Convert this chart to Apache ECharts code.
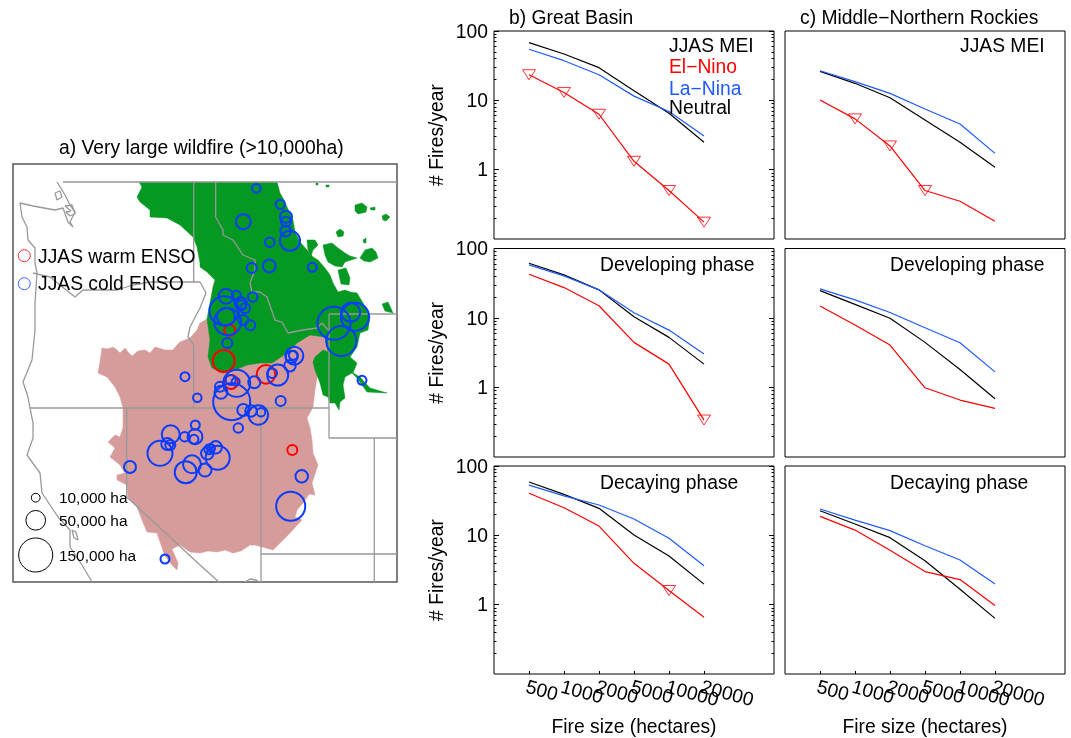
<!DOCTYPE html>
<html><head><meta charset="utf-8">
<style>html,body{margin:0;padding:0;background:#fff}#c{width:1071px;height:738px}</style>
<script src="https://cdn.jsdelivr.net/npm/echarts@6/dist/echarts.min.js"></script>
</head><body><div id="c"></div>
<script>
// ---------- fire-size curves (fires/year) ----------
const sizeLabels = ['500','1000','2000','5000','10000','20000'];
const sizePositions = [1,2,3,4,5,6];
const labelPositions = [0,1,2,3,4,5,6,8];
const majorTicks = [1,10,100];
const minorTicks = [0.2,0.3,0.4,0.5,0.6,0.7,0.8,0.9,2,3,4,5,6,7,8,9,20,30,40,50,60,70,80,90];

const basinMeiNeutral = [68,46.6,29.6,13.8,6.5,2.48];
const basinMeiLaNina  = [54.5,37.3,23.4,11.5,6.9,3.06];
const basinMeiElNino  = [23.4,13,6.3,1.32,0.5,0.175];
const basinMeiSig     = [1,1,1,1,1,1];

const basinDevNeutral = [61.4,41.7,25.4,10.4,5.26,2.17];
const basinDevLaNina  = [58,40.4,25.4,11.9,6.7,3.03];
const basinDevElNino  = [42.6,27.4,15,4.46,2.17,0.34];
const basinDevSig     = [0,0,0,0,0,1];

const basinDecNeutral = [58.8,39,24.5,10.1,5.04,1.98];
const basinDecLaNina  = [53,37,27.4,17.2,9.06,3.65];
const basinDecElNino  = [40.4,25,13.6,3.95,1.6,0.66];
const basinDecSig     = [0,0,0,0,1,0];

const rockMeiNeutral = [26.2,17.6,10.9,5.2,2.48,1.08];
const rockMeiLaNina  = [26.7,18.6,12.6,7.5,4.56,1.72];
const rockMeiElNino  = [10.1,5.4,2.2,0.5,0.35,0.18];
const rockMeiSig     = [0,1,1,1,0,0];

const rockDevNeutral = [24.8,15.7,9.9,4.46,1.82,0.69];
const rockDevLaNina  = [26.2,18.2,12,7.24,4.4,1.68];
const rockDevElNino  = [14.9,7.95,4.08,0.99,0.66,0.5];
const rockDevSig     = [0,0,0,0,0,0];

const rockDecNeutral = [22.6,14.6,9.25,4.3,1.67,0.635];
const rockDecLaNina  = [24,16.6,11.7,7.08,4.4,1.99];
const rockDecElNino  = [18.8,11.9,6.1,3,2.3,0.97];
const rockDecSig     = [0,0,0,0,0,0];

// ---------- map: circles [mapX, mapY, hectares] ----------
const coldFires = [
[256.3,188.3,10000],[280.3,204.3,11000],[286,216.7,18600],[286,221.7,12900],[285.7,231,15000],[290,240.7,51700],
[243.3,221.7,29000],[269.7,242.3,11700],[251.7,268,12900],[269.3,266,21000],[312.3,267.3,10500],[252.7,297,11700],
[226,296.3,28000],[236.3,295.3,10500],[240.7,303.3,18600],[241.3,305.3,12900],[245,308.3,12900],[224,310.7,109000],
[226,316.7,41800],[227.7,321.7,94100],[243.3,320,12900],[250.3,325.3,12900],[227.3,343,12900],[334,323.3,141000],
[355,316.7,101000],[350.7,312.3,46600],[341.3,341,116000],[362,380.3,10500],[294.3,355.7,41800],[293.3,355.3,10500],
[291.7,356.7,18600],[290,365.7,17100],[277.7,375,57000],[272.3,373.3,11700],[254.3,382.3,18600],[236.7,383.3,94100],
[230.7,380,12900],[235.7,381.7,8300],[220,386.7,12900],[221,392.3,21800],[231.7,401.7,177000],[197.3,397.7,9300],
[185,376.7,10500],[280.7,401,12900],[243.3,410,18600],[251,411,17100],[258.3,415,49000],[261,412.3,9300],[238.3,428,11700],
[160,453.3,80700],[170.7,434.3,41800],[167.3,444,18600],[170.3,445,12900],[184.7,436.7,11700],[195.3,425,10500],
[195,436.7,29000],[194,439.3,10500],[185.7,472.3,62500],[192,464.3,41800],[205,470,21800],[207.3,453.3,20200],
[211,448.3,8300],[215.7,447.3,20200],[217.7,457.7,74400],[209.3,449.3,12900],[130,467,18600],[301.7,476.3,20200],
[290.7,506.3,109000],[165,559,10500]
];
const warmFires = [[229.7,330.3,15600],[223.7,361,62500],[266,374.3,45000],[231,382,25000],[292.3,450,12900]];
const sizeKey = [[35.7,497.7,10000],[35.7,520.3,50000],[35.7,555,150000]];
const sizeKeyLabels = ['10,000 ha','50,000 ha','150,000 ha'];
const ensoKey = [[24.3,255.7],[24.3,283.7]];

// ---------- map: regions and boundaries, in map units ----------
const greatBasinRegion = [[102,348],[108,349],[113,347],[117,350],[120,353],[125,348],[128,352],[132,356],[138,351],[145,350],[150,353],[155,347],[165,350],[173,350],[177,345],[180,342],[190,338],[197,330],[200,323],[207,319],[225,330],[260,345],[300,330],[328,335],[332,355],[318,372],[315,390],[313,407],[307,418],[310,428],[312,440],[313,453],[318,465],[312,483],[315,495],[309,494],[303,503],[297,510],[295,517],[302,520],[290,533],[280,543],[273,550],[262,547],[255,545],[250,545],[241,551],[233,553],[225,550],[217,552],[208,551],[200,553],[190,552],[180,545],[172,549],[178,563],[177,570],[172,565],[165,556],[160,542],[157,533],[147,532],[142,520],[137,507],[128,497],[127,485],[117,480],[117,475],[125,473],[120,465],[110,457],[115,448],[108,442],[115,435],[120,437],[123,427],[123,408],[120,397],[115,387],[107,377],[98,373],[100,362]];
const rockiesRegion = [[139,182],[277,182],[280,193],[284,200],[287,207],[293,220],[295,232],[300,242],[307,250],[313,257],[318,260],[325,268],[330,275],[333,283],[338,292],[345,290],[350,292],[357,293],[363,303],[370,317],[368,330],[360,333],[357,347],[350,357],[357,363],[353,373],[360,377],[370,388],[387,393],[367,392],[357,378],[352,373],[345,377],[343,385],[345,398],[340,402],[339,410],[335,403],[330,403],[328,397],[323,395],[320,383],[315,370],[313,362],[315,357],[323,350],[328,352],[325,337],[310,335],[297,343],[287,353],[272,363],[260,363],[247,365],[235,370],[223,373],[212,368],[208,357],[210,340],[207,319],[210,303],[213,287],[215,280],[207,272],[200,267],[200,263],[197,247],[193,237],[180,225],[167,218],[150,217],[150,210],[140,202],[137,197],[142,187]];
const rockiesOutliers = [
[[355,205],[362,203],[367,207],[366,212],[358,214],[355,211]],
[[370,208],[375,207],[375,210],[371,210]],
[[382,216],[386,214],[390,217],[386,221],[383,220]],
[[336,232],[340,229],[344,232],[343,236],[338,237]],
[[307,240],[315,240],[318,245],[313,250],[311,256],[308,250]],
[[323,245],[332,243],[338,248],[345,253],[350,256],[357,258],[345,262],[342,267],[335,266],[328,262],[325,255]],
[[360,258],[365,250],[372,248],[376,252],[378,258],[370,262],[364,261]],
[[338,270],[346,268],[350,278],[349,285],[341,284]],
[[363,240],[366,238],[366,243],[364,243]],
[[382,304],[388,302],[393,313],[385,311]],
[[316,183],[318,183],[318,185],[316,185]],
[[326,185],[329,185],[329,187],[326,187]]
];
const boundaryLines = [
[[63,182],[397,182]],
[[57,182],[62,190],[65,195],[70,205],[75,212],[70,222],[73,227],[68,222],[63,208],[55,210],[33,206],[20,203],[22,217],[27,227],[28,240],[35,248],[35,263],[37,273],[35,303],[35,330],[32,360],[23,382],[28,397],[30,408],[33,423],[33,438],[27,455],[40,473],[42,493],[58,517],[70,530],[70,547],[82,565],[92,582]],
[[55,193],[60,191],[62,197],[57,200],[55,193]],
[[65,206],[72,205],[75,214],[70,216],[66,212],[71,211],[65,206]],
[[33,273],[50,277],[60,285],[75,297],[83,290],[117,290],[133,285],[150,282],[200,282]],
[[193.7,182],[193.7,282]],
[[215.7,182],[215.7,217],[223,230],[223,235],[233,240],[243,255],[255,260],[255,270],[250,283],[252,292],[260,292],[267,297],[275,320],[282,322],[288,333],[303,330],[317,328],[322,323],[328,330]],
[[329,314],[329,438],[397,438]],
[[329,314],[397,314]],
[[30,408],[329,408]],
[[126.7,408],[126.7,497],[200,565],[220,583]],
[[200,282],[206,293],[200,308],[190,327],[188,337],[193.7,345],[193.7,408]],
[[261,408],[261,583]],
[[261,554],[397,554]],
[[374.3,438],[374.3,583]],
[[72,530],[76,532],[78,540],[74,538],[72,530]],
[[245,582],[250,579],[256,580],[259,582]]
];

// ---------- colours and style ----------
const RED='#ff0000', BLUE='#1e5aff', BLACK='#000000', CIRC_BLUE='#0a3cff';
const FONT='"Liberation Sans", Arial, sans-serif';
const FS=19.3;

const panels = [
 {left:494,top:31,height:208,neutral:basinMeiNeutral,la:basinMeiLaNina,el:basinMeiElNino,sig:basinMeiSig,yAxis:true,xAxis:false},
 {left:494,top:248.5,height:208.5,neutral:basinDevNeutral,la:basinDevLaNina,el:basinDevElNino,sig:basinDevSig,yAxis:true,xAxis:false},
 {left:494,top:466,height:209,neutral:basinDecNeutral,la:basinDecLaNina,el:basinDecElNino,sig:basinDecSig,yAxis:true,xAxis:true},
 {left:785,top:31,height:208,neutral:rockMeiNeutral,la:rockMeiLaNina,el:rockMeiElNino,sig:rockMeiSig,yAxis:false,xAxis:false},
 {left:785,top:248.5,height:208.5,neutral:rockDevNeutral,la:rockDevLaNina,el:rockDevElNino,sig:rockDevSig,yAxis:false,xAxis:false},
 {left:785,top:466,height:209,neutral:rockDecNeutral,la:rockDecLaNina,el:rockDecElNino,sig:rockDecSig,yAxis:false,xAxis:true}
];

const grids=[], xAxes=[], yAxes=[], series=[];

// map panel
grids.push({left:13,top:164,width:384,height:418,show:true,borderColor:'#555',borderWidth:1.5,backgroundColor:'#fff'});
xAxes.push({type:'value',gridIndex:0,min:13,max:397,show:false});
yAxes.push({type:'value',gridIndex:0,min:164,max:582,inverse:true,show:false});

const regionSeries=(polys,color,z)=>({type:'custom',xAxisIndex:0,yAxisIndex:0,z,silent:true,clip:true,
  data:polys.map((p,i)=>[i]),
  renderItem:(params,api)=>({type:'polygon',shape:{points:polys[api.value(0)].map(pt=>api.coord(pt))},
    style:{fill:color,stroke:color,lineWidth:0.5}})});
series.push(regionSeries([greatBasinRegion],'#d69b9b',1));
series.push(regionSeries([rockiesRegion].concat(rockiesOutliers),'#059823',2));
boundaryLines.forEach(l=>series.push({type:'line',xAxisIndex:0,yAxisIndex:0,data:l,z:3,symbol:'none',silent:true,
  lineStyle:{color:'#999999',width:1.3}}));
const dia=ha=>8.8*Math.sqrt(ha/10000);
const circles=(d,color,width,z)=>({type:'scatter',xAxisIndex:0,yAxisIndex:0,data:d,z,silent:true,
  symbol:'circle',symbolSize:v=>dia(v[2]),
  itemStyle:{color:'rgba(0,0,0,0)',borderColor:color,borderWidth:width,opacity:1}});
series.push(circles(warmFires,RED,2,4));
series.push(circles(coldFires,CIRC_BLUE,2,5));
series.push(circles(sizeKey,BLACK,1,6));
series.push({type:'scatter',xAxisIndex:0,yAxisIndex:0,data:[ensoKey[0]],z:6,symbolSize:12,silent:true,itemStyle:{color:'rgba(0,0,0,0)',borderColor:RED,borderWidth:1}});
series.push({type:'scatter',xAxisIndex:0,yAxisIndex:0,data:[ensoKey[1]],z:6,symbolSize:12,silent:true,itemStyle:{color:'rgba(0,0,0,0)',borderColor:CIRC_BLUE,borderWidth:1}});

// six curve panels
panels.forEach((p,k)=>{
  const g=k+1;
  grids.push({left:p.left,top:p.top,width:280,height:p.height,show:true,borderColor:'#000',borderWidth:1,backgroundColor:'rgba(0,0,0,0)'});
  xAxes.push({type:'value',gridIndex:g,min:0,max:8,position:'bottom',
    axisLine:{show:false},splitLine:{show:false},
    axisTick:{show:p.xAxis,inside:true,length:3,customValues:sizePositions,lineStyle:{color:'#000'}},
    axisLabel:{show:p.xAxis,customValues:labelPositions,rotate:-15,margin:14,hideOverlap:false,padding:[0,0,0,-3],color:'#000',fontFamily:FONT,fontSize:FS,
      formatter:v=>sizeLabels[v-1]||''},
    name:p.xAxis?'Fire size (hectares)':'',nameLocation:'middle',nameGap:44,
    nameTextStyle:{color:'#000',fontFamily:FONT,fontSize:FS}});
  const yi=yAxes.length;
  const base={type:'log',logBase:10,gridIndex:g,min:0.1,max:100,splitLine:{show:false},axisLine:{show:false}};
  yAxes.push(Object.assign({},base,{position:'left',
    axisTick:{show:p.yAxis,inside:true,length:5,customValues:majorTicks,lineStyle:{color:'#000'}},
    axisLabel:{show:p.yAxis,customValues:majorTicks,margin:6,verticalAlign:'top',padding:[-8,0,0,0],color:'#000',fontFamily:FONT,fontSize:FS,formatter:v=>String(v)},
    name:p.yAxis?'# Fires/year':'',nameLocation:'middle',nameRotate:90,nameGap:47,
    nameTextStyle:{color:'#000',fontFamily:FONT,fontSize:FS}}));
  if(p.yAxis){
    yAxes.push(Object.assign({},base,{position:'left',axisLabel:{show:false},axisTick:{show:true,inside:true,length:2.5,customValues:minorTicks,lineStyle:{color:'#000'}}}));
    yAxes.push(Object.assign({},base,{position:'right',axisLabel:{show:false},axisTick:{show:true,inside:true,length:5,customValues:majorTicks,lineStyle:{color:'#000'}}}));
    yAxes.push(Object.assign({},base,{position:'right',axisLabel:{show:false},axisTick:{show:true,inside:true,length:2.5,customValues:minorTicks,lineStyle:{color:'#000'}}}));
  }
  const curve=(vals,color,z)=>({type:'line',xAxisIndex:g,yAxisIndex:yi,z,symbol:'none',silent:true,
    data:vals.map((v,i)=>[sizePositions[i],v]),lineStyle:{color,width:1.2}});
  series.push(curve(p.neutral,BLACK,2),curve(p.la,BLUE,3),curve(p.el,RED,4));
  const sigPts=p.el.map((v,i)=>[sizePositions[i],v]).filter((_,i)=>p.sig[i]);
  if(sigPts.length) series.push({type:'scatter',xAxisIndex:g,yAxisIndex:yi,z:5,silent:true,data:sigPts,
    symbol:'triangle',symbolRotate:180,symbolSize:[13,10],
    itemStyle:{color:'rgba(0,0,0,0)',borderColor:RED,borderWidth:0.8,opacity:1}});
});

// ---------- text ----------
const txt=(x,y,text,opt)=>Object.assign({type:'text',left:x,top:y,z:100,silent:true,
  style:{text,fill:(opt&&opt.color)||'#000',font:((opt&&opt.size)||FS)+'px '+FONT}},{});
const graphics=[
 txt(59,139,'a) Very large wildfire (>10,000ha)'),
 txt(509,9,'b) Great Basin'),
 txt(800,9,'c) Middle\u2212Northern Rockies'),
 txt(669,37,'JJAS MEI'),
 txt(669,58,'El\u2212Nino',{color:RED}),
 txt(669,80,'La\u2212Nina',{color:BLUE}),
 txt(669,99,'Neutral'),
 txt(960,37,'JJAS MEI'),
 txt(600,256,'Developing phase'),
 txt(890,256,'Developing phase'),
 txt(600,474,'Decaying phase'),
 txt(890,474,'Decaying phase'),
 txt(38,248,'JJAS warm ENSO'),
 txt(38,275,'JJAS cold ENSO')
];
sizeKey.forEach((k,i)=>graphics.push(txt(59,k[1]-6,sizeKeyLabels[i],{size:15.4})));

const chart=echarts.init(document.getElementById('c'),null,{renderer:'canvas'});
chart.setOption({animation:false,backgroundColor:'#fff',grid:grids,xAxis:xAxes,yAxis:yAxes,series,graphic:graphics,legend:{show:false},tooltip:{show:false}});
</script></body></html>
